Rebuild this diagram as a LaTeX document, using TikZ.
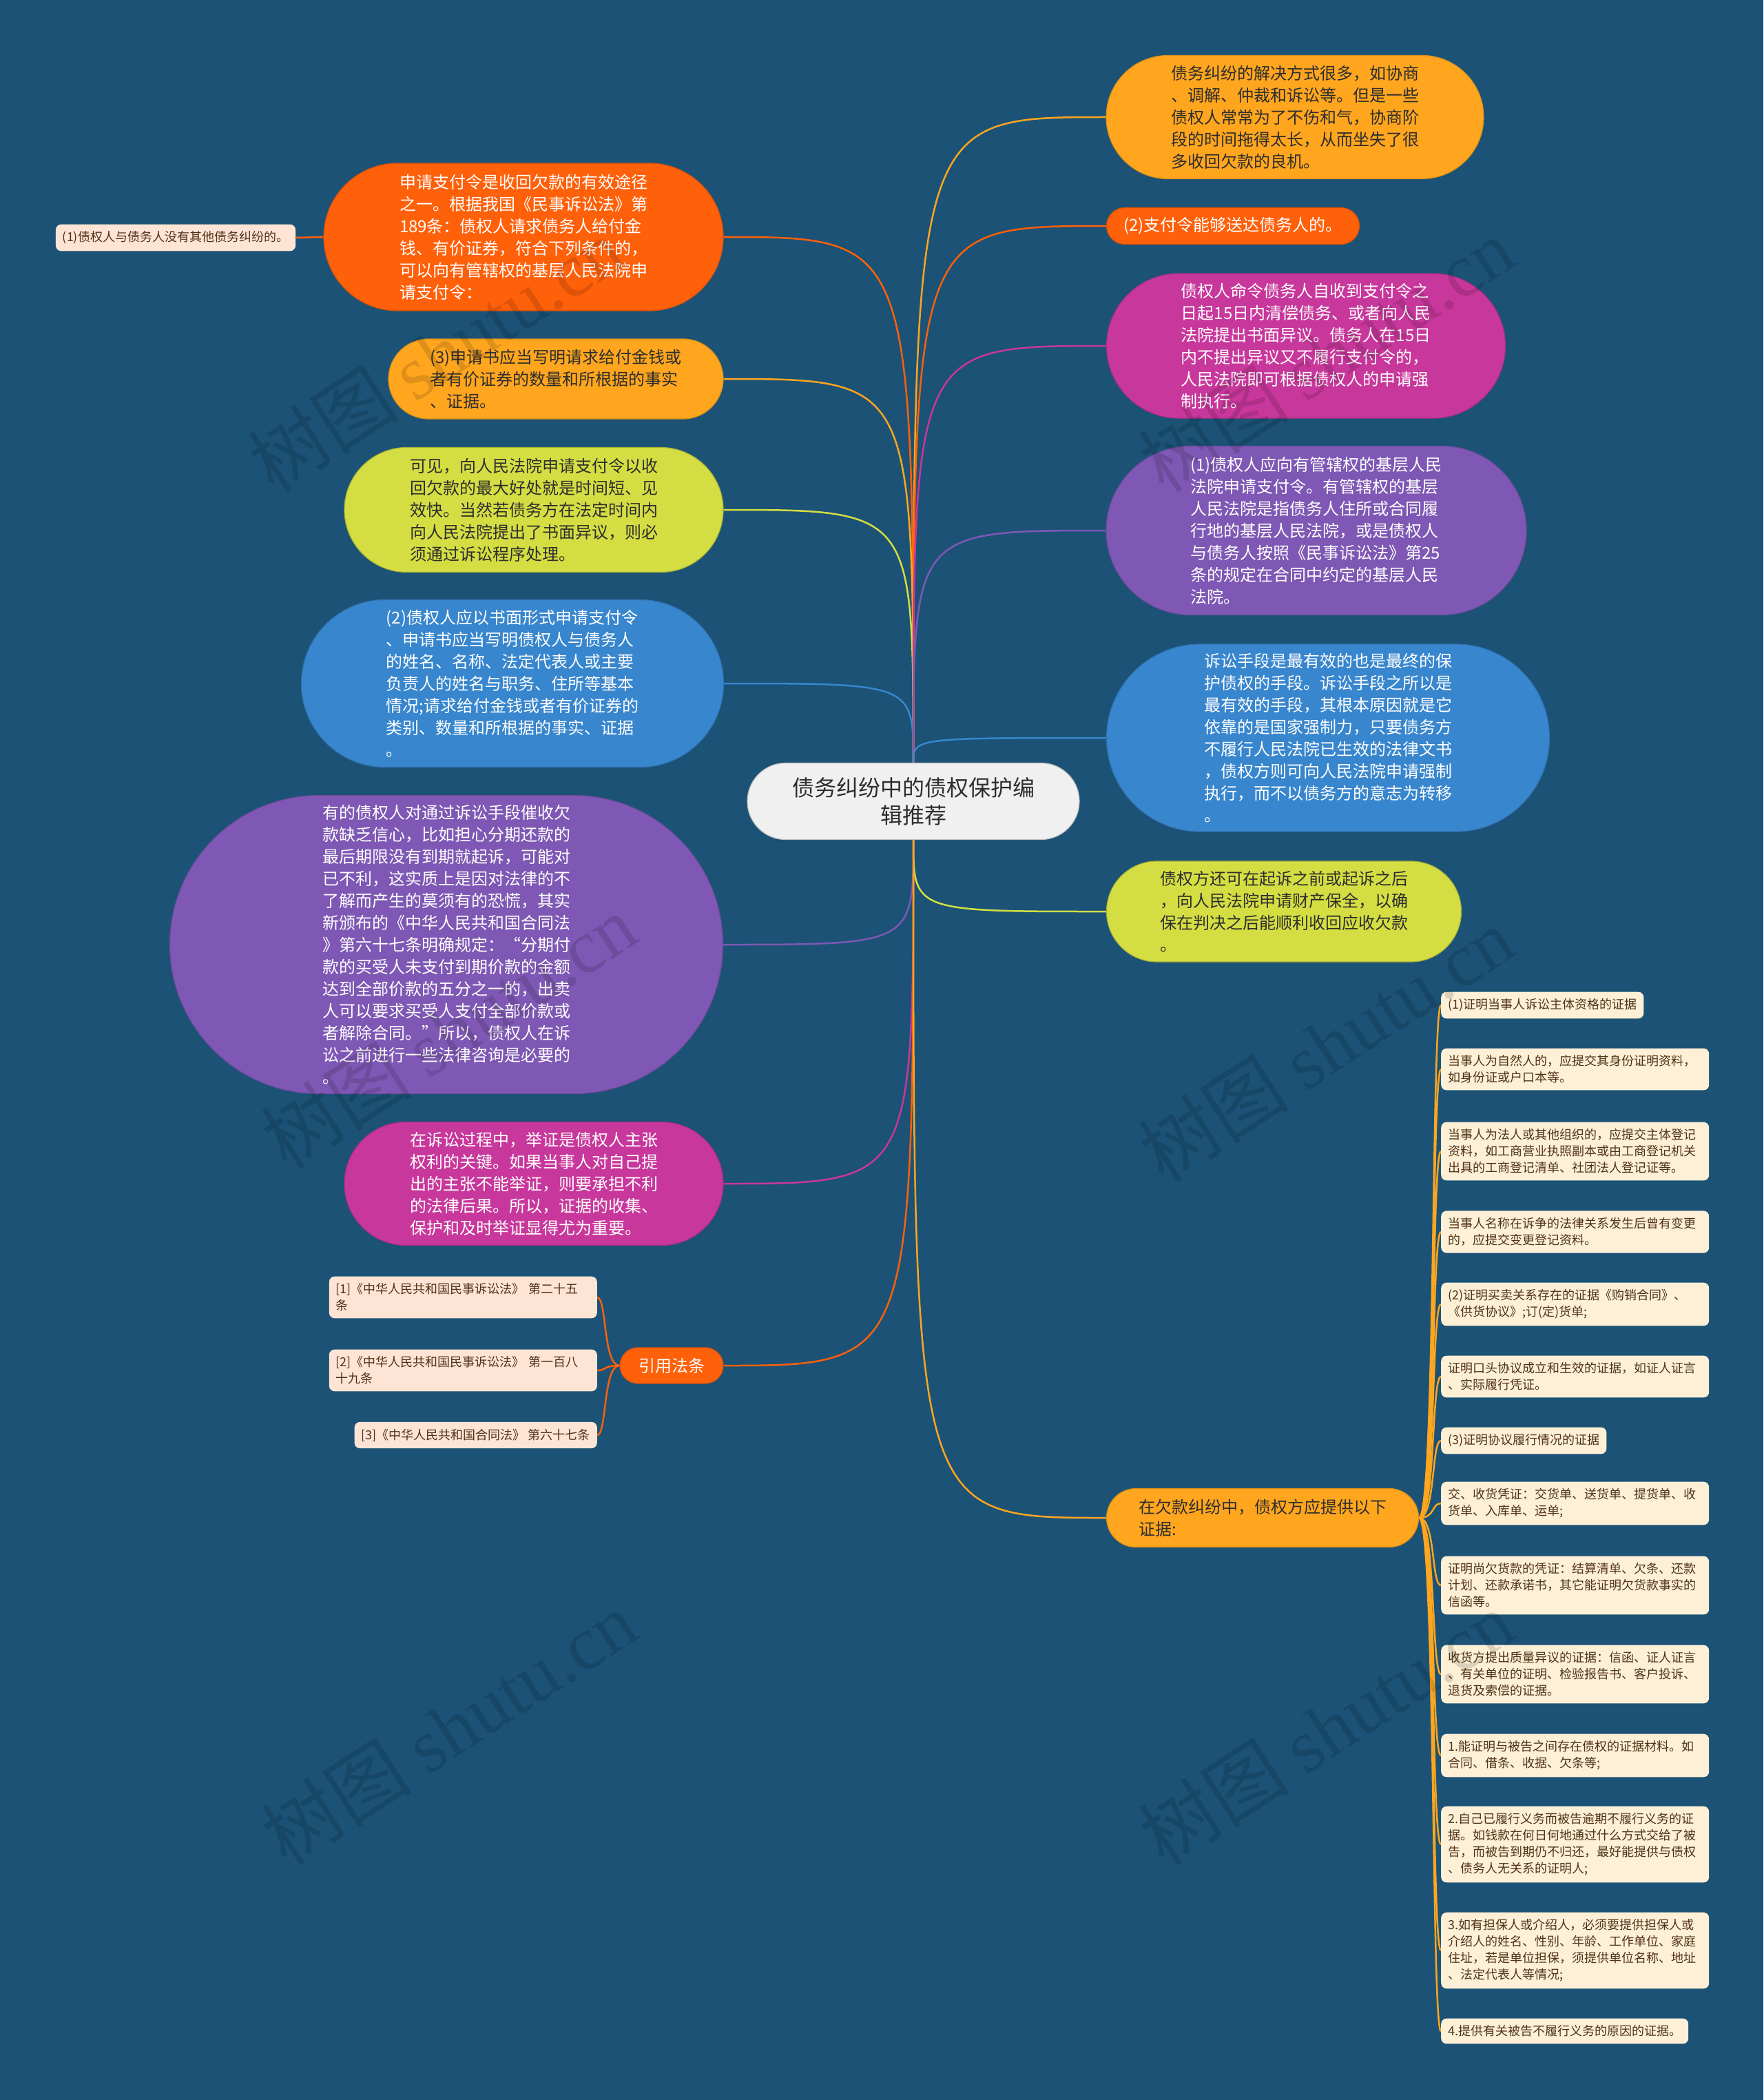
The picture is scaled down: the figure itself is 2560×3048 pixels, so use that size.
\documentclass[tikz,border=0pt]{standalone}
\usepackage{fontspec}
\setmainfont{Noto Sans CJK SC}
\newfontfamily\wmfont{Liberation Serif}
\usetikzlibrary{shapes.misc}

\definecolor{bgblue}{RGB}{27,82,118}
\definecolor{brOrange}{RGB}{255,96,10}
\definecolor{brAmber}{RGB}{255,166,30}
\definecolor{brLime}{RGB}{212,222,66}
\definecolor{brBlue}{RGB}{56,134,206}
\definecolor{brPurple}{RGB}{126,88,180}
\definecolor{brPink}{RGB}{200,55,155}
\definecolor{rootFill}{RGB}{240,240,240}
\definecolor{peach}{RGB}{253,228,212}
\definecolor{cream}{RGB}{253,240,214}
\definecolor{darkTxt}{RGB}{45,45,45}
\definecolor{brownTxt}{RGB}{80,50,25}

\pgfdeclarelayer{back}
\pgfsetlayers{back,main}

\tikzset{
  topic/.style={rounded rectangle, inner sep=0pt, align=left, line width=1.2pt,
    font=\fontsize{24}{32}\selectfont},
  leaf/.style={rectangle, rounded corners=8pt, inner xsep=10pt, inner ysep=10pt,
    align=left, text=brownTxt, font=\fontsize{18}{24}\selectfont},
  link/.style={line width=2.5pt},
  watermark/.style={rotate=33, text=black, opacity=0.13, font=\fontsize{110}{110}\selectfont}
}

\begin{document}
\begin{tikzpicture}[x=1pt,y=1pt,yscale=-1]
\begin{pgfonlayer}{back}
\fill[bgblue] (0,0) rectangle (2560,3048);
\end{pgfonlayer}
\useasboundingbox (0,0) rectangle (2560,3048);

% Text Node
\node[topic, fill=rootFill, draw=gray!50, text=darkTxt, align=center, minimum width=482pt, minimum height=111pt,
  font=\fontsize{32}{40}\selectfont] (root) at (1326,1163) {债务纠纷中的债权保护编\\辑推荐};

%left side
% Text Node
\node[topic, fill=brOrange, draw=brOrange!85!black, text=white, minimum width=580pt, minimum height=214pt] (payOrder) at (760,344)
  {申请支付令是收回欠款的有效途径\\之一。根据我国《民事诉讼法》第\\189条：债权人请求债务人给付金\\钱、有价证券，符合下列条件的，\\可以向有管辖权的基层人民法院申\\请支付令：};
% Text Node
\node[leaf, fill=peach] (noDispute) at (255,345) {(1)债权人与债务人没有其他债务纠纷的。};
% Text Node
\node[topic, fill=brAmber, draw=brAmber!85!black, text=darkTxt, minimum width=486pt, minimum height=116pt] (writeApp) at (807,550)
  {(3)申请书应当写明请求给付金钱或\\者有价证券的数量和所根据的事实\\、证据。};
% Text Node
\node[topic, fill=brLime, draw=brLime!80!black, text=darkTxt, minimum width=550pt, minimum height=181pt] (quickEffect) at (775,740)
  {可见，向人民法院申请支付令以收\\回欠款的最大好处就是时间短、见\\效快。当然若债务方在法定时间内\\向人民法院提出了书面异议，则必\\须通过诉讼程序处理。};
% Text Node
\node[topic, fill=brBlue, draw=brBlue!85!black, text=white, minimum width=613pt, minimum height=243pt] (writtenForm) at (744,992)
  {(2)债权人应以书面形式申请支付令\\、申请书应当写明债权人与债务人\\的姓名、名称、法定代表人或主要\\负责人的姓名与职务、住所等基本\\情况;请求给付金钱或者有价证券的\\类别、数量和所根据的事实、证据\\。};
% Text Node
\node[topic, fill=brPurple, draw=brPurple!85!black, text=white, minimum width=803pt, minimum height=433pt] (consult) at (648,1371)
  {有的债权人对通过诉讼手段催收欠\\款缺乏信心，比如担心分期还款的\\最后期限没有到期就起诉，可能对\\已不利，这实质上是因对法律的不\\了解而产生的莫须有的恐慌，其实\\新颁布的《中华人民共和国合同法\\》第六十七条明确规定：“分期付\\款的买受人未支付到期价款的金额\\达到全部价款的五分之一的，出卖\\人可以要求买受人支付全部价款或\\者解除合同。”所以，债权人在诉\\讼之前进行一些法律咨询是必要的\\。};
% Text Node
\node[topic, fill=brPink, draw=brPink!85!black, text=white, minimum width=550pt, minimum height=179pt] (evidence) at (775,1718)
  {在诉讼过程中，举证是债权人主张\\权利的关键。如果当事人对自己提\\出的主张不能举证，则要承担不利\\的法律后果。所以，证据的收集、\\保护和及时举证显得尤为重要。};
% Text Node
\node[topic, fill=brOrange, draw=brOrange!85!black, text=white, minimum width=150pt, minimum height=52pt, align=center] (citeLaw) at (975,1982) {引用法条};
\node[leaf, fill=peach, anchor=east, text width=369pt] (law1) at (867,1883) {[1]《中华人民共和国民事诉讼法》 第二十五\\条};
\node[leaf, fill=peach, anchor=east, text width=369pt] (law2) at (867,1989) {[2]《中华人民共和国民事诉讼法》 第一百八\\十九条};
\node[leaf, fill=peach, anchor=east] (law3) at (867,2083) {[3]《中华人民共和国合同法》 第六十七条};

%right side
% Text Node
\node[topic, fill=brAmber, draw=brAmber!85!black, text=darkTxt, minimum width=548pt, minimum height=179pt] (settleWays) at (1880,170)
  {债务纠纷的解决方式很多，如协商\\、调解、仲裁和诉讼等。但是一些\\债权人常常为了不伤和气，协商阶\\段的时间拖得太长，从而坐失了很\\多收回欠款的良机。};
% Text Node
\node[topic, fill=brOrange, draw=brOrange!85!black, text=white, minimum width=367pt, minimum height=53pt] (deliverable) at (1790,328)
  {(2)支付令能够送达债务人的。};
% Text Node
\node[topic, fill=brPink, draw=brPink!85!black, text=white, minimum width=579pt, minimum height=210pt] (courtOrder) at (1896,502)
  {债权人命令债务人自收到支付令之\\日起15日内清偿债务、或者向人民\\法院提出书面异议。债务人在15日\\内不提出异议又不履行支付令的，\\人民法院即可根据债权人的申请强\\制执行。};
% Text Node
\node[topic, fill=brPurple, draw=brPurple!85!black, text=white, minimum width=610pt, minimum height=245pt] (jurisdiction) at (1911,770)
  {(1)债权人应向有管辖权的基层人民\\法院申请支付令。有管辖权的基层\\人民法院是指债务人住所或合同履\\行地的基层人民法院，或是债权人\\与债务人按照《民事诉讼法》第25\\条的规定在合同中约定的基层人民\\法院。};
% Text Node
\node[topic, fill=brBlue, draw=brBlue!85!black, text=white, minimum width=643pt, minimum height=272pt] (litigation) at (1928,1071)
  {诉讼手段是最有效的也是最终的保\\护债权的手段。诉讼手段之所以是\\最有效的手段，其根本原因就是它\\依靠的是国家强制力，只要债务方\\不履行人民法院已生效的法律文书\\，债权方则可向人民法院申请强制\\执行，而不以债务方的意志为转移\\。};
% Text Node
\node[topic, fill=brLime, draw=brLime!80!black, text=darkTxt, minimum width=515pt, minimum height=146pt] (preserve) at (1864,1323)
  {债权方还可在起诉之前或起诉之后\\，向人民法院申请财产保全，以确\\保在判决之后能顺利收回应收欠款\\。};
% Text Node
\node[topic, fill=brAmber, draw=brAmber!85!black, text=darkTxt, minimum width=453pt, minimum height=85pt] (proofList) at (1833,2203)
  {在欠款纠纷中，债权方应提供以下\\证据:};

% evidence items
\node[leaf, fill=cream, anchor=west] (proof1) at (2092,1459) {(1)证明当事人诉讼主体资格的证据};
\node[leaf, fill=cream, anchor=west, text width=369pt] (proof2) at (2092,1552) {当事人为自然人的，应提交其身份证明资料，\\如身份证或户口本等。};
\node[leaf, fill=cream, anchor=west, text width=369pt] (proof3) at (2092,1671) {当事人为法人或其他组织的，应提交主体登记\\资料，如工商营业执照副本或由工商登记机关\\出具的工商登记清单、社团法人登记证等。};
\node[leaf, fill=cream, anchor=west, text width=369pt] (proof4) at (2092,1788) {当事人名称在诉争的法律关系发生后曾有变更\\的，应提交变更登记资料。};
\node[leaf, fill=cream, anchor=west, text width=369pt] (proof5) at (2092,1893) {(2)证明买卖关系存在的证据《购销合同》、\\《供货协议》;订(定)货单;};
\node[leaf, fill=cream, anchor=west, text width=369pt] (proof6) at (2092,1998) {证明口头协议成立和生效的证据，如证人证言\\、实际履行凭证。};
\node[leaf, fill=cream, anchor=west] (proof7) at (2092,2091) {(3)证明协议履行情况的证据};
\node[leaf, fill=cream, anchor=west, text width=369pt] (proof8) at (2092,2182) {交、收货凭证：交货单、送货单、提货单、收\\货单、入库单、运单;};
\node[leaf, fill=cream, anchor=west, text width=369pt] (proof9) at (2092,2301) {证明尚欠货款的凭证：结算清单、欠条、还款\\计划、还款承诺书，其它能证明欠货款事实的\\信函等。};
\node[leaf, fill=cream, anchor=west, text width=369pt] (proof10) at (2092,2430) {收货方提出质量异议的证据：信函、证人证言\\、有关单位的证明、检验报告书、客户投诉、\\退货及索偿的证据。};
\node[leaf, fill=cream, anchor=west, text width=369pt] (proof11) at (2092,2548) {1.能证明与被告之间存在债权的证据材料。如\\合同、借条、收据、欠条等;};
\node[leaf, fill=cream, anchor=west, text width=369pt] (proof12) at (2092,2677) {2.自己已履行义务而被告逾期不履行义务的证\\据。如钱款在何日何地通过什么方式交给了被\\告，而被告到期仍不归还，最好能提供与债权\\、债务人无关系的证明人;};
\node[leaf, fill=cream, anchor=west, text width=369pt] (proof13) at (2092,2831) {3.如有担保人或介绍人，必须要提供担保人或\\介绍人的姓名、性别、年龄、工作单位、家庭\\住址，若是单位担保，须提供单位名称、地址\\、法定代表人等情况;};
\node[leaf, fill=cream, anchor=west] (proof14) at (2092,2948) {4.提供有关被告不履行义务的原因的证据。};

\begin{pgfonlayer}{back}
%Curve Lines
\draw[link, brOrange] (root.north) .. controls (root.north |- payOrder.east) .. (payOrder.east);
\draw[link, brAmber] (root.north) .. controls (root.north |- writeApp.east) .. (writeApp.east);
\draw[link, brLime] (root.north) .. controls (root.north |- quickEffect.east) .. (quickEffect.east);
\draw[link, brBlue] (root.north) .. controls (root.north |- writtenForm.east) .. (writtenForm.east);
\draw[link, brPurple] (root.south) .. controls (root.south |- consult.east) .. (consult.east);
\draw[link, brPink] (root.south) .. controls (root.south |- evidence.east) .. (evidence.east);
\draw[link, brOrange] (root.south) .. controls (root.south |- citeLaw.east) .. (citeLaw.east);
\draw[link, brAmber] (root.north) .. controls (root.north |- settleWays.west) .. (settleWays.west);
\draw[link, brOrange] (root.north) .. controls (root.north |- deliverable.west) .. (deliverable.west);
\draw[link, brPink] (root.north) .. controls (root.north |- courtOrder.west) .. (courtOrder.west);
\draw[link, brPurple] (root.north) .. controls (root.north |- jurisdiction.west) .. (jurisdiction.west);
\draw[link, brBlue] (root.north) .. controls (root.north |- litigation.west) .. (litigation.west);
\draw[link, brLime] (root.south) .. controls (root.south |- preserve.west) .. (preserve.west);
\draw[link, brAmber] (root.south) .. controls (root.south |- proofList.west) .. (proofList.west);
%Straight Lines
\draw[link, brOrange] (payOrder.west) -- (noDispute.east);
\foreach \n in {law1,law2,law3}
  \draw[link, brOrange] (citeLaw.west) .. controls +(-24,0) and +(14,0) .. (\n.east);
\foreach \n in {1,...,14}
  \draw[link, brAmber] (proofList.east) .. controls +(24,0) and +(-14,0) .. (proof\n.west);
\end{pgfonlayer}

% watermarks
\foreach \wx/\wy in {632/515,651/1497,651/2508,1925/515,1925/1516,1925/2508}
  \node[watermark] at (\wx,\wy) {树图 {\wmfont shutu.cn}};

\end{tikzpicture}
\end{document}
